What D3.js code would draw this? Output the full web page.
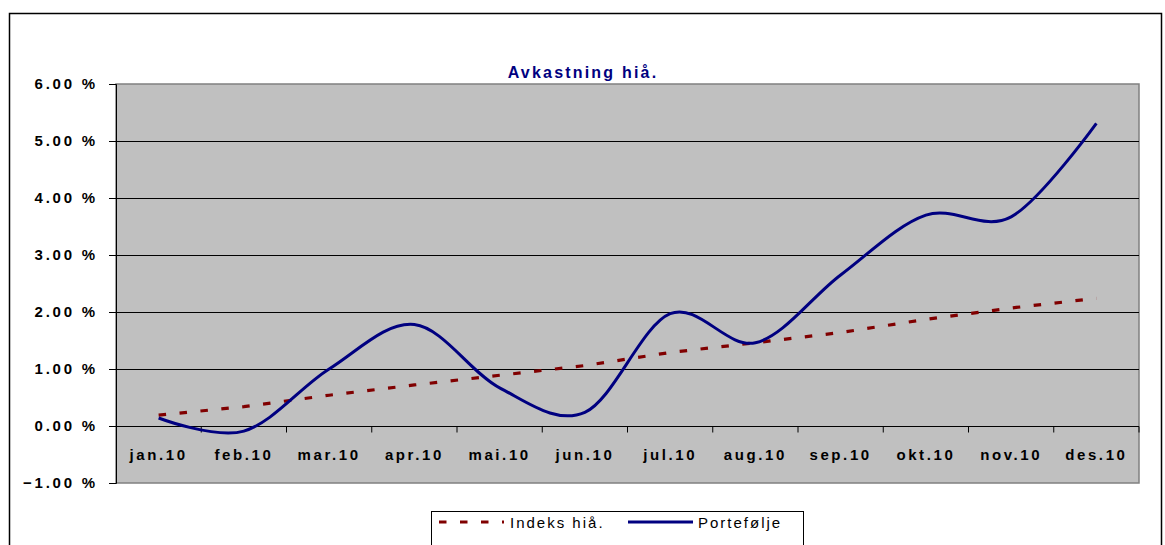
<!DOCTYPE html>
<html>
<head>
<meta charset="utf-8">
<script src="https://cdn.jsdelivr.net/npm/d3@7"></script>
<style>
    body { margin: 0; background: #fff; }
    svg { display: block; font-family: "Liberation Sans", Arial, sans-serif; }
</style>
</head>
<body>
<svg id="chart"></svg>
<script>
// month labels on the category axis
const months = ["jan.10", "feb.10", "mar.10", "apr.10", "mai.10", "jun.10",
    "jul.10", "aug.10", "sep.10", "okt.10", "nov.10", "des.10"]

// return so far this year, in percent
const indeks = [0.19, 0.34, 0.54, 0.72, 0.89, 1.06, 1.29, 1.46, 1.64, 1.87, 2.07, 2.24]
const portefolje = [0.14, -0.09, 1.00, 1.78, 0.67, 0.24, 1.97, 1.46, 2.65, 3.70, 3.67, 5.31]

const yTicks = [-1, 0, 1, 2, 3, 4, 5, 6]

const W = 1165, H = 545
const plot = {left: 116, top: 84, right: 1139, bottom: 483}

const svg = d3.select("#chart").attr("width", W).attr("height", H)

// outer chart frame (runs off the bottom of the page)
svg.append("rect")
    .attr("x", 9.5).attr("y", 13.5)
    .attr("width", 1152).attr("height", 560)
    .attr("fill", "#fff").attr("stroke", "#000").attr("stroke-width", 1.5)

svg.append("text")
    .attr("x", 583).attr("y", 78)
    .attr("text-anchor", "middle")
    .attr("font-size", 16).attr("font-weight", "bold")
    .attr("letter-spacing", 2.2)
    .attr("fill", "#000080")
    .text("Avkastning hiå.")

// category scale for ticks and labels, index -> band centre for the lines
const x = d3.scaleBand()
    .domain(months)
    .range([plot.left, plot.right])
const xi = i => x(months[i]) + x.bandwidth() / 2

const y = d3.scaleLinear()
    .domain([-1, 6])
    .range([plot.bottom, plot.top])

// grey plot area
svg.append("rect")
    .attr("x", plot.left).attr("y", plot.top)
    .attr("width", plot.right - plot.left).attr("height", plot.bottom - plot.top)
    .attr("fill", "#c0c0c0").attr("stroke", "#808080").attr("stroke-width", 1.5)

// horizontal gridlines
svg.append("g")
    .selectAll("line")
    .data(yTicks.filter(d => d > -1 && d < 6))
    .join("line")
    .attr("x1", plot.left).attr("x2", plot.right)
    .attr("y1", d => Math.round(y(d)) + 0.5).attr("y2", d => Math.round(y(d)) + 0.5)
    .attr("stroke", "#000").attr("stroke-width", 1.2)

// value axis
const yAxis = svg.append("g")
    .attr("transform", `translate(${plot.left},0)`)
    .call(d3.axisLeft(y).tickValues(yTicks).tickSize(7).tickPadding(11)
        .tickFormat(d => d3.format(".2f")(d) + " %"))
yAxis.select(".domain").attr("stroke", "#000")
yAxis.selectAll(".tick line").attr("stroke", "#000")
yAxis.selectAll("text")
    .attr("font-size", 15).attr("font-weight", "bold")
    .attr("letter-spacing", 2.8).attr("fill", "#000")
    .attr("font-family", "Liberation Sans, Arial, sans-serif")

// category axis sits on the zero line
const xAxis = svg.append("g")
    .attr("transform", `translate(0,${Math.round(y(0)) + 0.5})`)
    .call(d3.axisBottom(x).tickSize(0).tickPadding(23))
xAxis.select(".domain").remove()
xAxis.selectAll("text")
    .attr("font-size", 15).attr("font-weight", "bold")
    .attr("letter-spacing", 2.6).attr("fill", "#000")
    .attr("font-family", "Liberation Sans, Arial, sans-serif")

// tick marks between categories
xAxis.append("g")
    .selectAll("line")
    .data(d3.range(1, months.length + 1))
    .join("line")
    .attr("x1", i => plot.left + i * x.bandwidth())
    .attr("x2", i => plot.left + i * x.bandwidth())
    .attr("y1", 0).attr("y2", 6)
    .attr("stroke", "#000")
xAxis.append("line")
    .attr("x1", plot.left - 7).attr("x2", plot.right)
    .attr("stroke", "#000").attr("stroke-width", 1.2)

// Excel style smoothed line for the portfolio
const line = d3.line()
    .x((d, i) => xi(i))
    .y(d => y(d))
    .curve(d3.curveCardinal.tension(0))

svg.append("path")
    .datum(indeks)
    .attr("d", d3.line().x((d, i) => xi(i)).y(d => y(d)))
    .attr("fill", "none")
    .attr("stroke", "#800000").attr("stroke-width", 3.2)
    .attr("stroke-dasharray", "7.5,13.5")

svg.append("path")
    .datum(portefolje)
    .attr("d", line)
    .attr("fill", "none")
    .attr("stroke", "#000080").attr("stroke-width", 3)
    .attr("stroke-linejoin", "round")

// legend box
const legend = svg.append("g")
legend.append("rect")
    .attr("x", 431.5).attr("y", 511.5)
    .attr("width", 372).attr("height", 60)
    .attr("fill", "#fff").attr("stroke", "#000")

const items = [
    {label: "Indeks hiå.", color: "#800000", dash: "7.5,13.5", x0: 439, tx: 510},
    {label: "Portefølje", color: "#000080", dash: null, x0: 628, tx: 698}
]
items.forEach(d => {
    legend.append("line")
        .attr("x1", d.x0).attr("x2", d.x0 + 65)
        .attr("y1", 522).attr("y2", 522)
        .attr("stroke", d.color).attr("stroke-width", 3)
        .attr("stroke-dasharray", d.dash)
    legend.append("text")
        .attr("x", d.tx).attr("y", 528)
        .attr("font-size", 15).attr("letter-spacing", 2)
        .attr("fill", "#000")
        .text(d.label)
})
</script>
</body>
</html>
